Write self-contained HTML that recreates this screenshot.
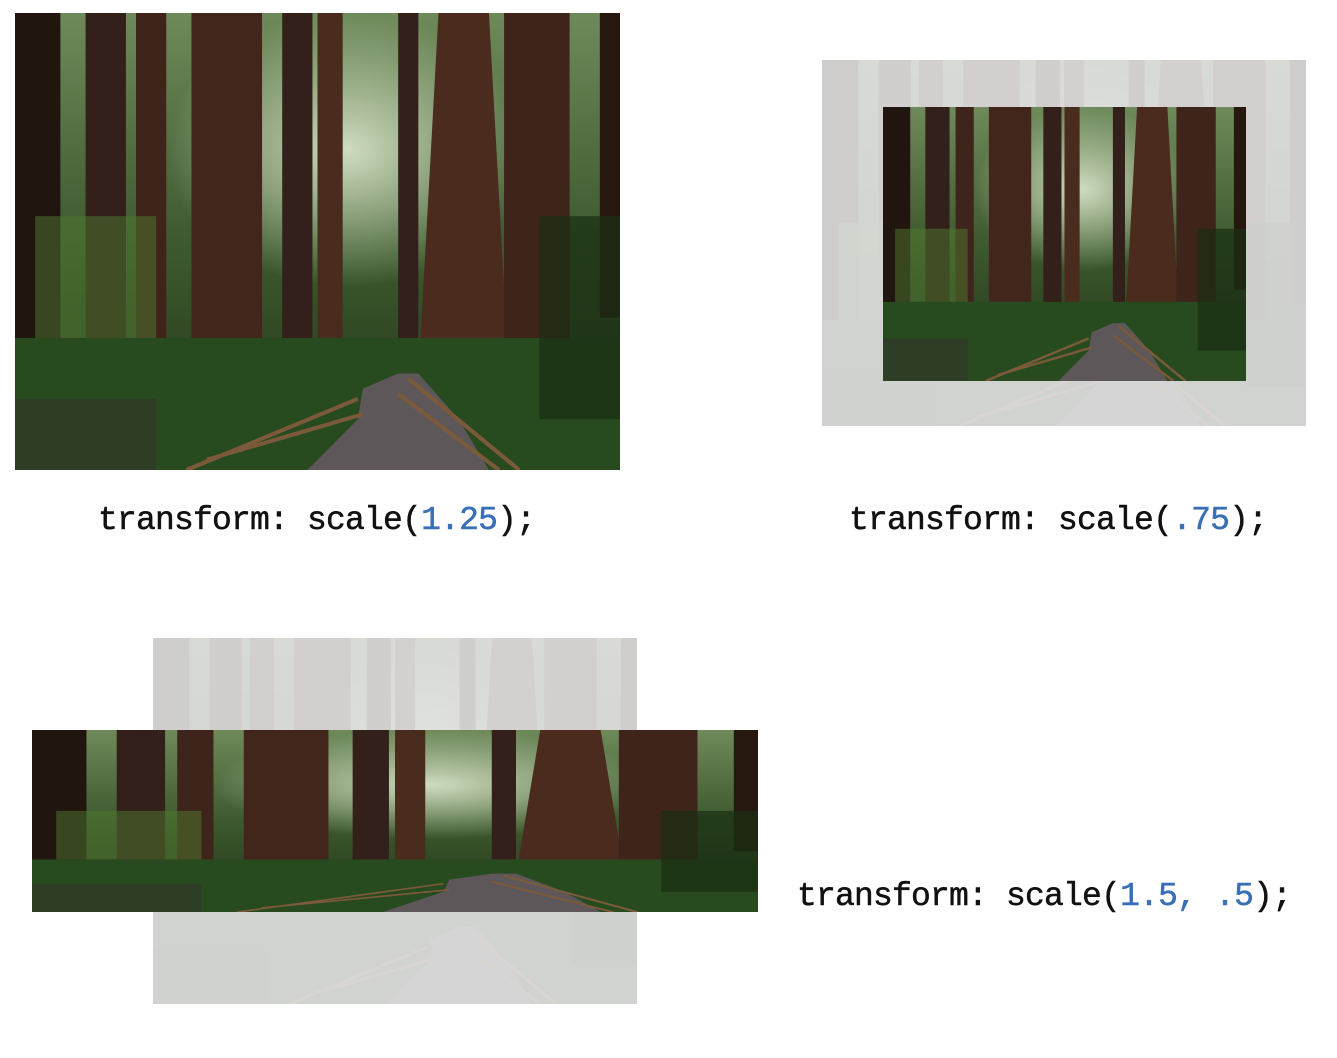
<!DOCTYPE html>
<html><head><meta charset="utf-8"><style>
html,body{margin:0;padding:0;background:#fff;width:1337px;height:1058px;overflow:hidden;position:relative}
svg{position:absolute}
.t{position:absolute;font-family:"Liberation Mono",monospace;font-size:33px;letter-spacing:-0.8px;color:#111;white-space:pre;line-height:1;-webkit-text-stroke:0.5px #111}
.b{color:#3a6fb8;-webkit-text-stroke:0.5px #3a6fb8}
</style></head><body>
<svg width="0" height="0" style="position:absolute">
<defs>
<linearGradient id="sky" x1="0" y1="0" x2="0" y2="1">
<stop offset="0" stop-color="#6f8a5a"/><stop offset="0.5" stop-color="#3d5a2e"/><stop offset="1" stop-color="#223318"/>
</linearGradient>
<radialGradient id="glow" cx="0.55" cy="0.3" r="0.3">
<stop offset="0" stop-color="#cfdcbf"/><stop offset="1" stop-color="#cfdcbf" stop-opacity="0"/>
</radialGradient>
<g id="f">
<rect width="600" height="450" fill="url(#sky)"/>
<rect width="600" height="450" fill="url(#glow)"/>
<g fill="#33201a">
<rect x="0" y="0" width="45" height="450" fill="#21150f"/>
<rect x="70" y="0" width="40" height="330"/>
<rect x="120" y="0" width="30" height="320" fill="#3e241a"/>
<rect x="175" y="0" width="70" height="340" fill="#42261c"/>
<rect x="265" y="0" width="30" height="330"/>
<rect x="300" y="0" width="25" height="340" fill="#4a2c1f"/>
<rect x="380" y="0" width="20" height="330"/>
<polygon points="420,0 470,0 490,360 400,360" fill="#4a2b1e"/>
<rect x="485" y="0" width="65" height="370" fill="#3e241a"/>
<rect x="580" y="0" width="20" height="300" fill="#26180f"/>
</g>
<rect x="0" y="320" width="600" height="130" fill="#284a1f"/>
<polygon points="380,355 400,355 440,400 470,450 290,450 340,400 345,370" fill="#5e5759"/>
<path d="M170 450 L340 380 M190 440 L345 395" stroke="#7a5a3a" stroke-width="4" fill="none"/>
<path d="M390 360 L500 450 M380 375 L480 450" stroke="#7a5a3a" stroke-width="4" fill="none"/>
<rect x="0" y="380" width="140" height="70" fill="#2f3a28" opacity="0.8"/>
<rect x="20" y="200" width="120" height="120" fill="#4f7a30" opacity="0.5"/>
<rect x="520" y="200" width="80" height="200" fill="#1a2d13" opacity="0.7"/>
</g>
</defs>
</svg>

<svg style="left:15px;top:13px" width="605" height="457" viewBox="0 0 600 450" preserveAspectRatio="none"><use href="#f"/></svg>

<svg style="left:822px;top:60px" width="484" height="366" viewBox="0 0 600 450" preserveAspectRatio="none"><rect width="600" height="450" fill="#e4e4e4"/><use href="#f" opacity="0.1"/></svg>
<svg style="left:883px;top:107px" width="363" height="274" viewBox="0 0 600 450" preserveAspectRatio="none"><use href="#f"/></svg>

<svg style="left:153px;top:638px" width="484" height="366" viewBox="0 0 600 450" preserveAspectRatio="none"><rect width="600" height="450" fill="#e4e4e4"/><use href="#f" opacity="0.1"/></svg>
<svg style="left:32px;top:730px" width="726" height="182" viewBox="0 0 600 450" preserveAspectRatio="none"><use href="#f"/></svg>

<div class="t" style="left:98px;top:504px">transform: scale(<span class="b">1.25</span>);</div>
<div class="t" style="left:849px;top:504px">transform: scale(<span class="b">.75</span>);</div>
<div class="t" style="left:797px;top:880px">transform: scale(<span class="b">1.5, .5</span>);</div>
</body></html>
